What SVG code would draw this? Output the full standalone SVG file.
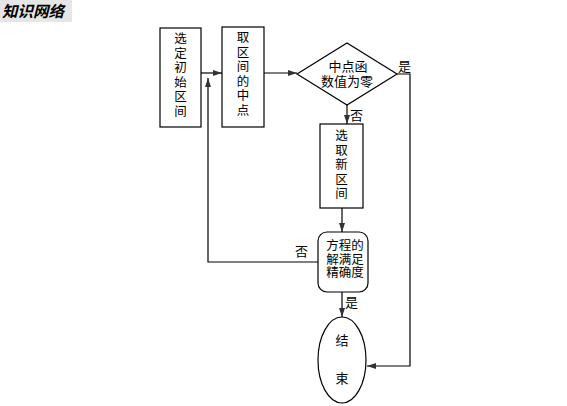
<svg xmlns="http://www.w3.org/2000/svg" width="567" height="406" viewBox="0 0 567 406">
<style>
.n{fill:#fff;stroke:#000;stroke-width:1.2}
.t{font-family:"Noto Sans CJK SC","Liberation Sans",sans-serif;font-size:13px;fill:#000}
.v{font-size:12.5px}
.c{fill:none;stroke:#000;stroke-width:1.2}
</style>
<defs>
<marker id="a" markerWidth="10" markerHeight="8" refX="9" refY="4" orient="auto" markerUnits="userSpaceOnUse">
<path d="M0,1 L9,4 L0,7 Z" fill="#333"/>
</marker>
</defs>
<rect width="567" height="406" fill="#fff"/>
<g id="title">
<rect x="0" y="0" width="72" height="22" fill="#e6e6e6"/>
<text x="2" y="17" font-family="'Noto Sans CJK SC',sans-serif" font-size="15.5" font-weight="bold" font-style="italic">知识网络</text>
</g>
<g id="connectors">
<path class="c" d="M201,73 H222" marker-end="url(#a)"/>
<path class="c" d="M318,262 H208 V78" marker-end="url(#a)"/>
<path class="c" d="M264,73 H297" marker-end="url(#a)"/>
<path class="c" d="M347,105 V124" marker-end="url(#a)"/>
<path class="c" d="M342,208 V232" marker-end="url(#a)"/>
<path class="c" d="M342,292 V317" marker-end="url(#a)"/>
<path class="c" d="M397,74 H410 V366 H367" marker-end="url(#a)"/>
<text class="t" x="398" y="71">是</text>
<text class="t" x="350" y="120">否</text>
<text class="t" x="295" y="256">否</text>
<text class="t" x="345" y="307">是</text>
</g>
<g id="n1">
<rect class="n" x="160" y="28" width="41" height="99"/>
<text class="t v" text-anchor="middle"><tspan x="180.5" y="43">选</tspan><tspan x="180.5" dy="14.5">定</tspan><tspan x="180.5" dy="14.5">初</tspan><tspan x="180.5" dy="14.5">始</tspan><tspan x="180.5" dy="14.5">区</tspan><tspan x="180.5" dy="14.5">间</tspan></text>
</g>
<g id="n2">
<rect class="n" x="222" y="27" width="42" height="100"/>
<text class="t v" text-anchor="middle"><tspan x="243" y="42">取</tspan><tspan x="243" dy="14.5">区</tspan><tspan x="243" dy="14.5">间</tspan><tspan x="243" dy="14.5">的</tspan><tspan x="243" dy="14.5">中</tspan><tspan x="243" dy="14.5">点</tspan></text>
</g>
<g id="n3">
<polygon class="n" points="297,74 347,43 397,74 347,105"/>
<text class="t" text-anchor="middle"><tspan x="348" y="71">中点函</tspan><tspan x="347" y="86">数值为零</tspan></text>
</g>
<g id="n4">
<rect class="n" x="320" y="124" width="43" height="84"/>
<text class="t v" text-anchor="middle"><tspan x="341.5" y="140">选</tspan><tspan x="341.5" dy="14.5">取</tspan><tspan x="341.5" dy="14.5">新</tspan><tspan x="341.5" dy="14.5">区</tspan><tspan x="341.5" dy="14.5">间</tspan></text>
</g>
<g id="n5">
<rect class="n" x="318" y="232" width="50" height="60" rx="9"/>
<text class="t v" text-anchor="middle"><tspan x="345" y="250">方程的</tspan><tspan x="345" dy="13.5">解满足</tspan><tspan x="345" dy="13.5">精确度</tspan></text>
</g>
<g id="n6">
<ellipse class="n" cx="342" cy="360" rx="24" ry="43"/>
<text class="t" text-anchor="middle"><tspan x="342" y="345">结</tspan><tspan x="342" y="383">束</tspan></text>
</g>
</svg>
